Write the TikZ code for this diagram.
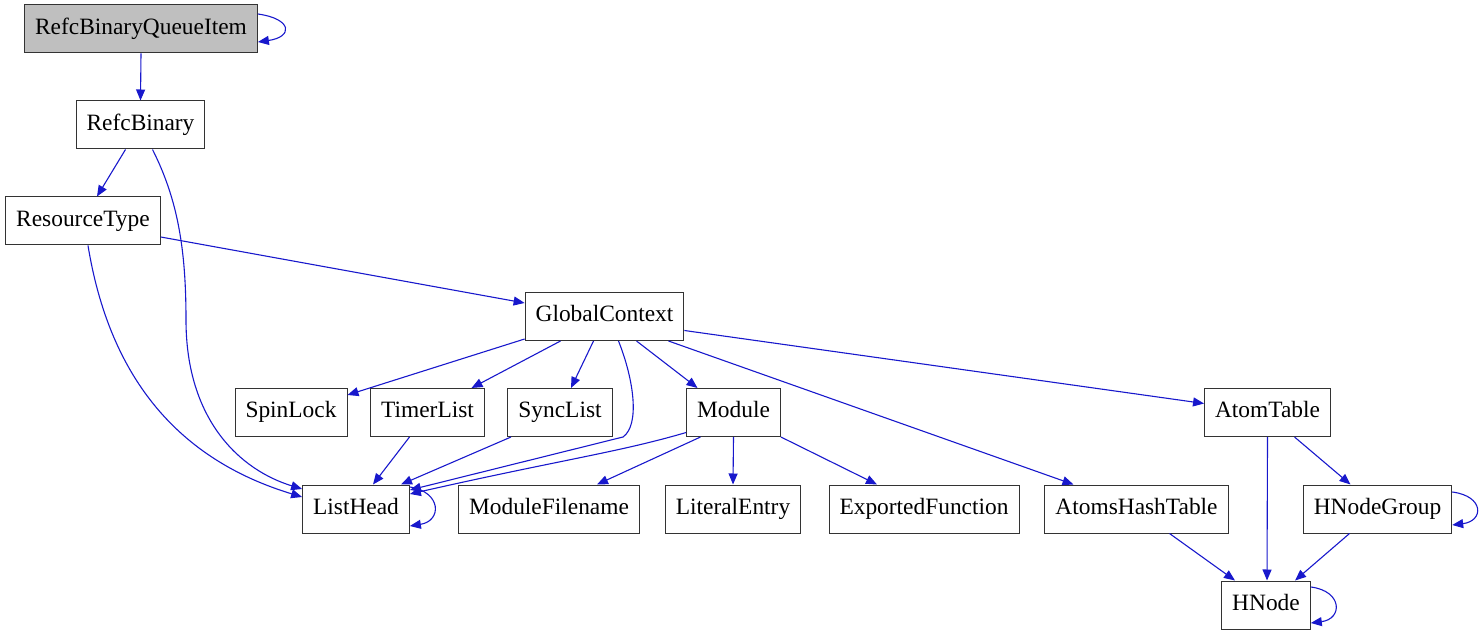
\documentclass[tikz,border=0pt]{standalone}
\usepackage{fontspec}
\setmainfont{Liberation Serif}
\usetikzlibrary{arrows.meta,positioning}
\definecolor{edgeblue}{RGB}{24,24,204}
\definecolor{boxgray}{RGB}{191,191,191}

\begin{document}
\begin{tikzpicture}[x=0.5pt,y=-0.5pt,
    >={Triangle[length=5.5pt,width=4.5pt]},
    cls/.style={draw=black!80,line width=0.5pt,fill=white,minimum height=24pt,
      inner xsep=5.25pt,inner ysep=0pt,text height=8pt,text depth=2.6pt,
      font=\fontsize{11.7}{14}\selectfont},
    edge/.style={->,draw=edgeblue,line width=0.55pt}]
  \useasboundingbox (0,0) rectangle (1481,635);
  % Draw class boxes
  \node[cls,fill=boxgray] (rbqi) at (141,29) {RefcBinaryQueueItem};
  \node[cls] (rb)     at (140.5,125) {RefcBinary};
  \node[cls] (rtype)  at (83,221)    {ResourceType};
  \node[cls] (gctx)   at (604.5,316.5) {GlobalContext};
  \node[cls] (spin)   at (291,412.5) {SpinLock};
  \node[cls] (timer)  at (427.5,412.5) {TimerList};
  \node[cls] (sync)   at (560,412.5) {SyncList};
  \node[cls] (module) at (733.5,412.5) {Module};
  \node[cls] (atab)   at (1267.5,412.5) {AtomTable};
  \node[cls] (lhead)  at (356,509)   {ListHead};
  \node[cls] (mfile)  at (549,509)   {ModuleFilename};
  \node[cls] (lentry) at (733,509)   {LiteralEntry};
  \node[cls] (efunc)  at (924,509)   {ExportedFunction};
  \node[cls] (ahash)  at (1136.5,509) {AtomsHashTable};
  \node[cls] (hgroup) at (1377.5,509) {HNodeGroup};
  \node[cls] (hnode)  at (1266,605)  {HNode};
  % Draw edges from the top
  \draw[edge] ([shift={(0,-15)}]rbqi.east) .. controls +(35,5) and +(35,-5) .. ([shift={(0,13)}]rbqi.east);
  \draw[edge] (rbqi.south) -- (rb.north);
  \draw[edge] ([shift={(-15,0)}]rb.south) -- ([shift={(14,0)}]rtype.north);
  \draw[edge] ([shift={(12,0)}]rb.south) .. controls (178,200) and (186,250) .. (186,320)
              .. controls (186,420) and (240,470) .. ([shift={(0,-20)}]lhead.west);
  \draw[edge] ([shift={(5,0)}]rtype.south) .. controls (110,380) and (180,460) .. ([shift={(0,-12)}]lhead.west);
  \draw[edge] ([shift={(0,16)}]rtype.east) -- ([shift={(0,-13.5)}]gctx.west);
  % Draw edges out of GlobalContext
  \draw[edge] ([shift={(0,-2)}]gctx.south west) -- ([shift={(0,7)}]spin.north east);
  \draw[edge] ([shift={(-44,0)}]gctx.south) -- ([shift={(44,0)}]timer.north);
  \draw[edge] ([shift={(-11,0)}]gctx.south) -- ([shift={(11,0)}]sync.north);
  \draw[edge] ([shift={(14,0)}]gctx.south) .. controls (634,380) and (640,425) .. (623,437)
              -- ([shift={(0,-19)}]lhead.east);
  \draw[edge] ([shift={(32,0)}]gctx.south) -- ([shift={(-36,0)}]module.north);
  \draw[edge] ([shift={(64,0)}]gctx.south) -- ([shift={(-63,0)}]ahash.north);
  \draw[edge] ([shift={(0,14)}]gctx.east) -- ([shift={(0,-9)}]atab.west);
  % Draw edges into ListHead and from Module
  \draw[edge] ([shift={(-18,0)}]timer.south) -- ([shift={(17,0)}]lhead.north);
  \draw[edge] ([shift={(-49,0)}]sync.south) -- ([shift={(45,0)}]lhead.north);
  \draw[edge] ([shift={(0,20)}]module.west) .. controls (620,452) and (560,460) .. ([shift={(0,-15)}]lhead.east);
  \draw[edge] ([shift={(0,-22)}]lhead.east) .. controls +(32,5) and +(32,-5) .. ([shift={(0,17)}]lhead.east);
  \draw[edge] ([shift={(-33,0)}]module.south) -- ([shift={(48,0)}]mfile.north);
  \draw[edge] (module.south) -- (lentry.north);
  \draw[edge] (module.south east) -- ([shift={(-47,0)}]efunc.north);
  % Draw edges of the atom table
  \draw[edge] (atab.south) -- ([shift={(1,0)}]hnode.north);
  \draw[edge] ([shift={(27,0)}]atab.south) -- ([shift={(-27,0)}]hgroup.north);
  \draw[edge] ([shift={(33,0)}]ahash.south) -- ([shift={(-31,0)}]hnode.north);
  \draw[edge] ([shift={(-28,0)}]hgroup.south) -- ([shift={(29,0)}]hnode.north);
  \draw[edge] ([shift={(0,-17)}]hgroup.east) .. controls +(32,4) and +(32,-4) .. ([shift={(0,16)}]hgroup.east);
  \draw[edge] ([shift={(0,-18)}]hnode.east) .. controls +(32,4) and +(32,-4) .. ([shift={(0,18)}]hnode.east);
\end{tikzpicture}
\end{document}
